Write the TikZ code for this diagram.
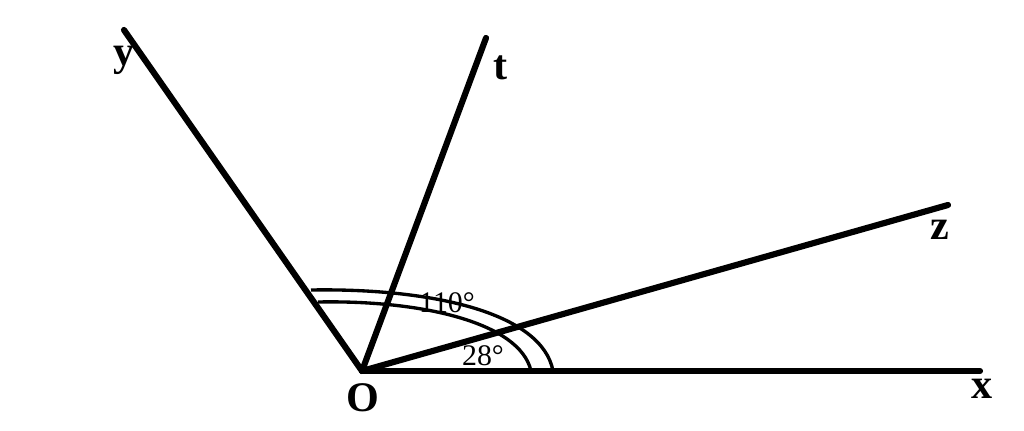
\documentclass[tikz,border=0pt]{standalone}
\usepackage{fontspec}
\setmainfont{Liberation Serif}
\usepackage{tikz}

\begin{document}
\begin{tikzpicture}[x=0.02cm,y=-0.02cm,
	ray/.style={line width=3.5pt, line cap=round},
	arcline/.style={line width=1.9pt},
	lbl/.style={font=\fontsize{24}{24}\selectfont\bfseries},
	deg/.style={font=\fontsize{17}{17}\selectfont}]
	\useasboundingbox (0,0) rectangle (1024,431);
	% rays from O
	\coordinate (O) at (362,371);
	\coordinate (X) at (980,371);
	\coordinate (Z) at (948,205);
	\coordinate (T) at (486,38);
	\coordinate (Y) at (124,30);
	\draw[ray] (O) -- (X);
	\draw[ray] (O) -- (Z);
	\draw[ray] (O) -- (T);
	\draw[ray] (O) -- (Y);
	% angle marks
	\draw[arcline] (311,290) .. controls (430,288) and (542,312) .. (553,371);
	\draw[arcline] (318,302) .. controls (420,300) and (520,322) .. (531,371);
	\node[deg] (a110) at (447,303) {110°};
	\node[deg] (a28) at (483,356) {28°};
	% labels
	\node[lbl] (lO) at (363,398) {O};
	\node[lbl] (lx) at (982,389) {x};
	\node[lbl] (lz) at (940,230) {z};
	\node[lbl] (lt) at (501,68) {t};
	\node[lbl] (ly) at (124,60) {y};
\end{tikzpicture}
\end{document}
